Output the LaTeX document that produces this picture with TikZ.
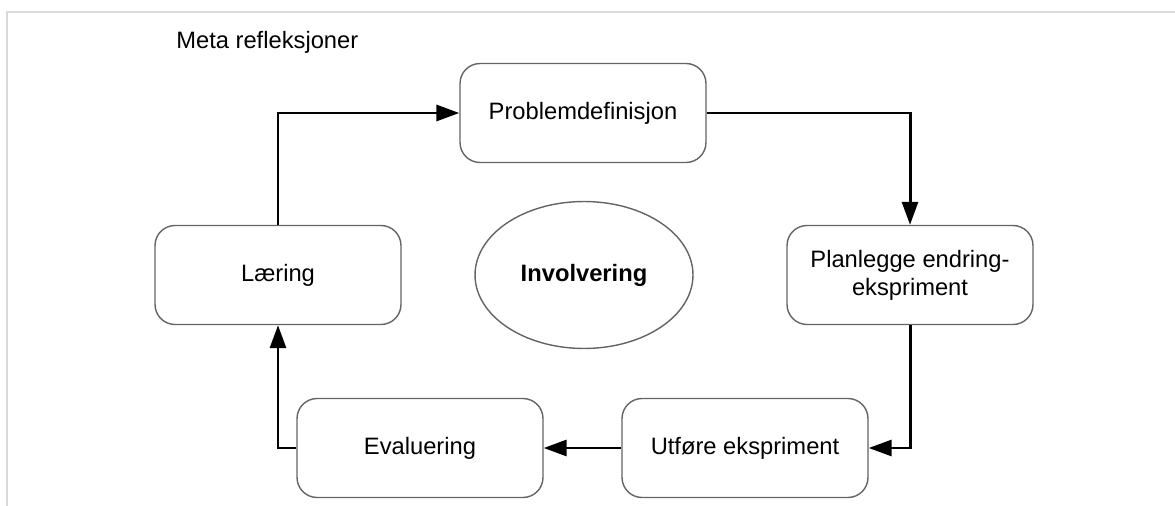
\documentclass[tikz,border=0pt]{standalone}
\usepackage{fontspec}
\setmainfont{Liberation Sans}
\definecolor{framegray}{RGB}{217, 217, 217}
\definecolor{boxgray}{RGB}{100, 100, 100}
\usetikzlibrary{arrows.meta,shapes.geometric}

\tikzset{
  stepbox/.style = {
    draw           = boxgray,
    line width     = 0.8pt,
    rounded corners= 0.4cm,
    minimum width  = 4.92cm,
    minimum height = 1.98cm,
    align          = center,
    font           = \fontsize{13.5}{16}\selectfont
  },
  flow/.style = {
    line width = 1.7pt,
    -{Triangle[length=0.46cm, width=0.32cm]}
  }
}

\begin{document}
\begin{tikzpicture}[x=0.02cm, y=-0.02cm]
  \useasboundingbox (0,0) rectangle (1175,506);

  % frame
  \draw[framegray, line width=1.2pt] (1175,12) -- (7,12) -- (7,506);

  \node[anchor=west, inner sep=0pt, font=\fontsize{13.5}{16}\selectfont]
    (meta) at (176,42) {Meta refleksjoner};

  % cycle
  \node[stepbox] (problem)    at (583,113) {Problemdefinisjon};
  \node[stepbox] (planlegge)  at (910,275) {Planlegge endring-\\ekspriment};
  \node[stepbox] (utfore)     at (745,448) {Utføre ekspriment};
  \node[stepbox] (evaluering) at (420,448) {Evaluering};
  \node[stepbox] (laering)    at (278,275) {Læring};

  \node[
    ellipse,
    draw           = boxgray,
    line width     = 0.8pt,
    minimum width  = 4.36cm,
    minimum height = 2.94cm,
    font           = \fontsize{13.5}{16}\selectfont\bfseries
  ] (involvering) at (584,275) {Involvering};

  \draw[flow] (laering.north) |- (problem.west);
  \draw[flow] (problem.east) -| (planlegge.north);
  \draw[flow] (planlegge.south) |- (utfore.east);
  \draw[flow] (utfore.west) -- (evaluering.east);
  \draw[flow] (evaluering.west) -| (laering.south);
\end{tikzpicture}
\end{document}
